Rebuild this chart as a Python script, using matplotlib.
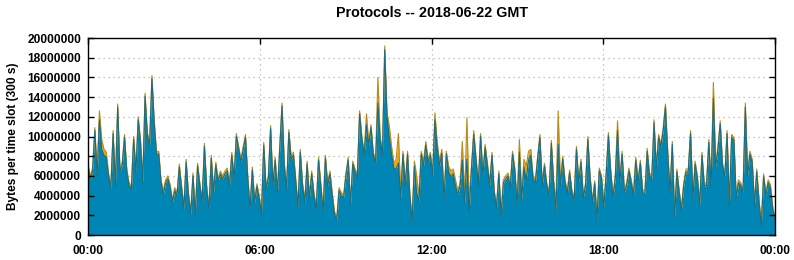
import numpy as np
import matplotlib
matplotlib.use("Agg")
import matplotlib.pyplot as plt
from matplotlib.ticker import FuncFormatter

plt.rcParams['font.family'] = ['Liberation Sans', 'DejaVu Sans']
plt.rcParams['font.weight'] = 'bold'

# top of the stack (blue + orange), millions of bytes per 300 s slot
total_q1 = [7.2, 6.0, 6.8, 10.9, 6.3, 12.6, 9.7, 8.7, 8.4, 6.3,
            5.0, 10.6, 5.3, 13.3, 6.7, 7.4, 10.2, 6.7, 5.3, 5.0,
            10.0, 6.7, 12.0, 9.7, 5.6, 14.4, 10.4, 9.4, 16.2, 11.7,
            8.5, 8.5, 5.6, 4.5, 5.6, 6.0, 5.1, 3.6, 4.8, 4.3,
            7.2, 5.0, 2.9, 7.7, 4.3, 2.4, 6.3, 2.3, 7.3, 5.3,
            3.6, 9.3, 5.0, 2.8, 8.1, 4.6, 7.4, 5.7, 6.5, 6.0,
            6.5, 6.8, 5.3, 8.4, 6.0, 10.3, 9.0, 7.7, 9.0, 10.2,
            6.0, 2.9, 6.9, 3.6, 5.2, 4.0, 2.4, 9.4]
total_q2 = [5.0, 6.0, 11.1, 5.3, 7.9, 4.6, 9.0, 13.4, 7.3, 5.0,
            10.7, 8.0, 8.4, 5.8, 3.1, 8.7, 5.3, 3.6, 7.5, 4.0,
            6.5, 4.3, 2.9, 7.9, 5.3, 2.6, 8.1, 5.3, 6.5, 4.3,
            2.4, 1.8, 4.8, 4.3, 4.1, 6.3, 7.9, 3.3, 7.5, 6.7,
            6.2, 12.6, 10.0, 8.4, 12.3, 9.4, 11.2, 8.4, 7.7, 16.0,
            10.0, 8.4, 19.2, 12.4, 11.1, 9.0, 7.3, 7.7, 10.3, 4.3,
            8.5, 5.3, 8.5, 4.3, 1.6, 7.5, 6.0, 4.0, 8.5, 7.5,
            9.5, 7.7]
total_q3 = [8.4, 6.3, 12.4, 9.4, 7.5, 8.7, 4.0, 8.5, 7.0, 6.5,
            6.7, 5.6, 4.5, 5.3, 9.5, 3.8, 11.9, 3.3, 7.0, 10.6,
            8.0, 5.3, 10.3, 6.3, 9.2, 7.3, 5.3, 8.4, 4.5, 3.1,
            6.5, 2.3, 5.6, 6.0, 6.3, 5.1, 8.5, 6.8, 3.3, 9.7,
            4.0, 7.7, 7.0, 8.5, 8.7, 6.0, 5.6, 8.0, 10.2, 5.3,
            7.3, 5.3, 4.3, 9.6, 5.6, 3.3, 12.6, 5.3, 8.0, 5.6,
            4.5, 6.6, 4.6, 3.8, 9.0, 5.6, 7.7, 4.1, 5.3, 10.0,
            6.0, 3.5, 5.5, 1.8, 6.8]
total_q4 = [6.0, 3.1, 6.3, 10.4, 6.7, 4.1, 6.0, 11.6, 5.6, 8.5,
            4.6, 5.3, 6.8, 5.6, 4.3, 7.9, 5.6, 7.6, 4.6, 4.5,
            8.8, 6.3, 6.0, 11.7, 7.0, 10.2, 9.2, 10.9, 13.3, 8.5,
            4.6, 9.5, 2.1, 6.7, 4.6, 2.8, 5.3, 6.7, 6.7, 10.6,
            4.0, 7.5, 6.0, 3.3, 8.4, 5.3, 5.3, 9.7, 5.3, 15.5,
            7.2, 9.0, 11.6, 7.3, 6.2, 10.6, 3.3, 10.2, 9.9, 4.0,
            5.6, 5.3, 4.6, 13.4, 6.3, 8.5, 7.7, 3.3, 6.7, 3.6,
            1.3, 6.2, 4.3, 5.6, 5.1, 2.9, 1.8]

# orange (second protocol) share of each slot, millions of bytes
orange_q1 = [0.3, 0.3, 0.3, 0.3, 0.3, 0.9, 1.0, 0.6, 0.5, 0.3,
             0.3, 0.3, 0.3, 0.3, 0.3, 0.3, 0.3, 0.3, 0.3, 0.3,
             0.3, 0.3, 0.3, 0.3, 0.3, 0.3, 0.3, 0.3, 0.3, 0.3,
             0.3, 0.3, 0.3, 0.4, 0.3, 0.3, 0.3, 0.3, 0.3, 0.3,
             0.3, 0.3, 0.3, 0.3, 0.3, 0.3, 0.3, 0.3, 0.3, 0.3,
             0.3, 0.3, 0.3, 0.3, 0.3, 0.3, 0.3, 0.3, 0.3, 0.3,
             0.3, 0.3, 0.3, 0.3, 0.3, 0.3, 0.3, 0.3, 0.3, 0.3,
             0.3, 0.3, 0.3, 0.3, 0.3, 0.3, 0.3, 0.3]
orange_q2 = [0.3, 0.3, 0.3, 0.3, 0.3, 0.3, 0.3, 0.3, 0.3, 0.3,
             0.3, 0.3, 0.3, 0.3, 0.3, 0.3, 0.3, 0.3, 0.3, 0.3,
             0.3, 0.3, 0.3, 0.3, 0.3, 0.3, 0.3, 0.3, 0.3, 0.3,
             0.3, 0.3, 0.3, 0.3, 0.3, 0.3, 0.3, 0.3, 0.3, 0.3,
             0.3, 0.3, 0.3, 0.3, 1.1, 0.3, 0.3, 0.3, 0.3, 2.6,
             0.3, 0.3, 0.4, 0.3, 1.2, 0.8, 0.5, 1.0, 3.0, 0.6,
             0.3, 0.3, 0.3, 0.3, 0.3, 0.5, 1.7, 0.6, 0.3, 0.5,
             0.4, 0.3]
orange_q3 = [0.3, 0.3, 0.7, 0.5, 0.5, 0.4, 0.3, 0.3, 0.6, 0.6,
             0.5, 0.6, 0.4, 0.3, 1.9, 0.6, 4.2, 1.0, 0.3, 0.4,
             0.3, 0.3, 0.3, 0.3, 0.3, 0.3, 0.3, 0.3, 0.3, 0.3,
             0.3, 0.3, 0.3, 0.3, 0.3, 0.3, 0.3, 0.3, 0.3, 1.3,
             0.4, 0.8, 1.4, 0.9, 0.6, 0.3, 0.3, 0.3, 0.3, 0.3,
             0.3, 0.3, 0.3, 0.3, 0.3, 0.8, 3.4, 0.3, 0.3, 0.3,
             0.3, 0.3, 0.3, 0.3, 0.3, 0.3, 0.3, 0.3, 0.3, 0.3,
             0.3, 0.3, 0.3, 0.3, 0.3]
orange_q4 = [0.3, 0.3, 0.3, 0.3, 0.3, 0.3, 0.3, 1.0, 0.3, 0.3,
             0.3, 0.3, 0.3, 0.3, 0.3, 0.3, 0.3, 0.3, 0.3, 0.3,
             0.3, 0.3, 0.3, 0.3, 0.3, 0.3, 0.3, 0.3, 0.3, 0.3,
             0.3, 0.3, 0.3, 0.3, 0.3, 0.3, 0.3, 0.3, 0.3, 0.3,
             0.3, 0.3, 0.3, 0.3, 0.3, 0.3, 0.3, 0.3, 0.3, 1.6,
             0.3, 0.3, 0.3, 0.3, 0.3, 0.3, 0.3, 0.3, 0.3, 0.3,
             0.3, 0.3, 0.3, 0.4, 0.3, 0.3, 0.3, 0.3, 0.3, 0.3,
             0.3, 0.3, 0.3, 0.3, 0.3, 0.3, 0.3]

hour_ticks = [0, 6, 12, 18, 24]
hour_labels = ['00:00', '06:00', '12:00', '18:00', '00:00']

total = np.array(total_q1 + total_q2 + total_q3 + total_q4) * 1e6
orange = np.array(orange_q1 + orange_q2 + orange_q3 + orange_q4) * 1e6
blue = total - orange
hours = np.linspace(0, 24, len(total))

fig = plt.figure(figsize=(7.94, 2.60), dpi=100)
ax = fig.add_axes([88 / 794, 25 / 260, 687 / 794, 197 / 260])

# dotted grid behind the areas
for v in range(2000000, 20000001, 2000000):
    ax.axhline(v, color='#b4b4b4', lw=0.9, ls=(0, (1, 3)), zorder=0)
for h in hour_ticks[1:-1]:
    ax.axvline(h, color='#b4b4b4', lw=0.9, ls=(0, (1, 3)), zorder=0)

ax.fill_between(hours, 0, blue, color='#0086b4', lw=0, zorder=1)
ax.fill_between(hours, blue, total, color='#f2a30c', lw=0, zorder=1)
ax.plot(hours, total, color='#b88c1c', lw=0.8, zorder=2)
ax.plot(hours, blue, color='#1d6c80', lw=0.8, zorder=2)

ax.set_xlim(0, 24)
ax.set_ylim(0, 20000000)
ax.set_xticks(hour_ticks)
ax.set_xticklabels(hour_labels)
ax.set_yticks(range(0, 20000001, 2000000))
ax.yaxis.set_major_formatter(FuncFormatter(lambda v, p: '%d' % v))

ax.tick_params(axis='both', direction='in', length=4, width=1, color='black',
               labelsize=8.6, top=True, right=True)
ax.tick_params(axis='x', pad=7, bottom=False)
ax.tick_params(axis='y', pad=5)
for s in ax.spines.values():
    s.set_linewidth(1.0)
    s.set_zorder(5)
ax.set_axisbelow(False)

ax.set_ylabel('Bytes per time slot (300 s)', fontsize=8.6, fontweight='bold')
ax.yaxis.set_label_coords(-0.1, 0.5)
ax.set_title('Protocols -- 2018-06-22 GMT', fontsize=10.3, fontweight='bold', pad=15)

fig.savefig('out.png', dpi=100)
